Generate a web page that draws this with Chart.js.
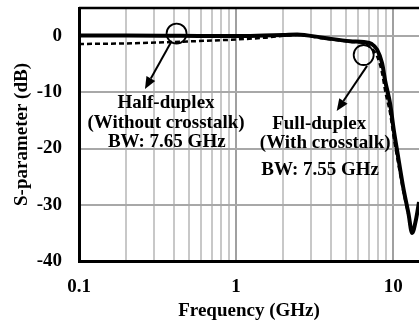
<!DOCTYPE html>
<html>
<head>
<meta charset="utf-8">
<script src="https://cdn.jsdelivr.net/npm/chart.js@4.4.0/dist/chart.umd.min.js"></script>
<style>
  html, body { margin: 0; padding: 0; background: #fff; }
  #wrap { width: 419px; height: 325px; }
</style>
</head>
<body>
<div id="wrap"><canvas id="chart"></canvas></div>
<script>
// Frequency sweep points (GHz)
const freqs = [0.1, 0.2, 0.44, 1, 1.5, 2, 2.45, 3.58, 5.32, 6.5, 7.3, 7.9, 8.5, 8.9, 9.57, 10.1, 10.6, 11.6, 12.5, 13.2, 14, 14.6];
// Full-duplex (with crosstalk) response, dB
const fullDuplex = [0.1, 0.1, 0.05, 0, 0.1, 0.2, 0.3, -0.3, -0.9, -1.05, -1.4, -2.4, -4.8, -8.0, -12.1, -16.8, -20.4, -27.0, -31.5, -35.0, -32.5, -29.5];
// Half-duplex (without crosstalk) response, dB
const halfDuplex = [-1.4, -1.3, -1.0, -0.6, -0.3, 0.05, 0.2, -0.4, -1.0, -1.3, -2.2, -3.6, -6.6, -9.8, -13.8, -18.2, -21.6, -27.6, -31.8, -35.0, -32.5, -29.5];

// Axis ticks
const gridFreqs = [0.1, 0.2, 0.3, 0.4, 0.5, 0.6, 0.7, 0.8, 0.9, 1, 2, 3, 4, 5, 6, 7, 8, 9, 10];
const freqLabels = [0.1, 1, 10];
const dbTicks = [-40, -30, -20, -10, 0];

// Callouts: circle marks, arrows and text, in data coordinates
const circleMarks = [[0.418, 0.45], [6.49, -3.36]];
const arrowFrom = [[0.386, -1.06], [6.82, -5.3]];
const arrowTo = [[0.263, -9.4], [4.37, -13.3]];
const noteText = ['Half-duplex', '(Without crosstalk)', 'BW: 7.65 GHz', 'Full-duplex', '(With crosstalk)', 'BW: 7.55 GHz'];
const notePos = [[0.358, -12.0], [0.358, -15.4], [0.362, -18.9], [3.38, -15.7], [3.69, -19.1], [3.43, -23.9]];

const FONT = '"Liberation Serif", "Times New Roman", serif';

const calloutPlugin = {
  id: 'callouts',
  afterDraw(chart) {
    const { ctx, chartArea, scales: { x, y } } = chart;
    ctx.save();

    // top frame line
    ctx.strokeStyle = '#000';
    ctx.lineWidth = 2.5;
    ctx.beginPath();
    ctx.moveTo(chartArea.left, chartArea.top);
    ctx.lineTo(chartArea.right, chartArea.top);
    ctx.stroke();

    // circles
    ctx.lineWidth = 1.8;
    circleMarks.forEach(([f, db]) => {
      ctx.beginPath();
      ctx.arc(x.getPixelForValue(f), y.getPixelForValue(db), 10, 0, Math.PI * 2);
      ctx.stroke();
    });

    // arrows
    arrowFrom.forEach((from, i) => {
      const x0 = x.getPixelForValue(from[0]), y0 = y.getPixelForValue(from[1]);
      const x1 = x.getPixelForValue(arrowTo[i][0]), y1 = y.getPixelForValue(arrowTo[i][1]);
      const ang = Math.atan2(y1 - y0, x1 - x0);
      const head = 12, half = 5;
      const bx = x1 - head * Math.cos(ang), by = y1 - head * Math.sin(ang);
      ctx.lineWidth = 2;
      ctx.beginPath();
      ctx.moveTo(x0, y0);
      ctx.lineTo(bx, by);
      ctx.stroke();
      ctx.beginPath();
      ctx.moveTo(x1, y1);
      ctx.lineTo(bx + half * Math.sin(ang), by - half * Math.cos(ang));
      ctx.lineTo(bx - half * Math.sin(ang), by + half * Math.cos(ang));
      ctx.closePath();
      ctx.fillStyle = '#000';
      ctx.fill();
    });

    // labels
    ctx.font = 'bold 19px ' + FONT;
    ctx.textAlign = 'center';
    ctx.textBaseline = 'middle';
    ctx.fillStyle = '#000';
    noteText.forEach((t, i) => {
      ctx.fillText(t, x.getPixelForValue(notePos[i][0]), y.getPixelForValue(notePos[i][1]));
    });
    ctx.restore();
  }
};

const toPoints = (vals) => freqs.map((f, i) => ({ x: f, y: vals[i] }));

new Chart(document.getElementById('chart'), {
  type: 'line',
  data: {
    datasets: [
      {
        label: 'Full-duplex',
        data: toPoints(fullDuplex),
        borderColor: '#000',
        borderWidth: 4,
        pointRadius: 0,
        cubicInterpolationMode: 'monotone'
      },
      {
        label: 'Half-duplex',
        data: toPoints(halfDuplex),
        borderColor: '#000',
        borderWidth: 2.5,
        borderDash: [5, 3],
        pointRadius: 0,
        cubicInterpolationMode: 'monotone'
      }
    ]
  },
  options: {
    responsive: true,
    maintainAspectRatio: false,
    animation: false,
    layout: { padding: { top: 8, right: 0, bottom: 0, left: 0 } },
    plugins: {
      legend: { display: false },
      tooltip: { enabled: false }
    },
    scales: {
      x: {
        type: 'logarithmic',
        min: 0.1,
        max: 14.6,
        afterBuildTicks: (scale) => { scale.ticks = gridFreqs.map(v => ({ value: v })); },
        afterFit: (scale) => { scale.height = 64; scale.paddingLeft = 0; scale.paddingRight = 0; },
        ticks: {
          autoSkip: false,
          maxRotation: 0,
          padding: 15,
          color: '#000',
          font: { family: FONT, size: 19, weight: 'bold' },
          callback: (v) => freqLabels.includes(v) ? String(v) : ''
        },
        grid: {
          drawTicks: false,
          lineWidth: 2,
          color: (ctx) => (ctx.tick && (ctx.tick.value === 1 || ctx.tick.value === 10)) ? '#a0a0a0' : '#c8c8c8'
        },
        border: { color: '#000', width: 3 },
        title: {
          display: true,
          text: 'Frequency (GHz)',
          color: '#000',
          padding: { top: 0, bottom: 3 },
          font: { family: FONT, size: 19, weight: 'bold' }
        }
      },
      y: {
        min: -40,
        max: 5,
        afterBuildTicks: (scale) => { scale.ticks = dbTicks.map(v => ({ value: v })); },
        afterFit: (scale) => { scale.width = 79; scale.paddingTop = 0; scale.paddingBottom = 0; },
        ticks: {
          padding: 17,
          color: '#000',
          font: { family: FONT, size: 19, weight: 'bold' }
        },
        grid: { drawTicks: false, lineWidth: 2, color: '#a8a8a8' },
        border: { color: '#000', width: 3 },
        title: {
          display: true,
          text: 'S-parameter (dB)',
          color: '#000',
          padding: { top: 11, bottom: 0 },
          font: { family: FONT, size: 19, weight: 'bold' }
        }
      }
    }
  },
  plugins: [calloutPlugin]
});
</script>
</body>
</html>
